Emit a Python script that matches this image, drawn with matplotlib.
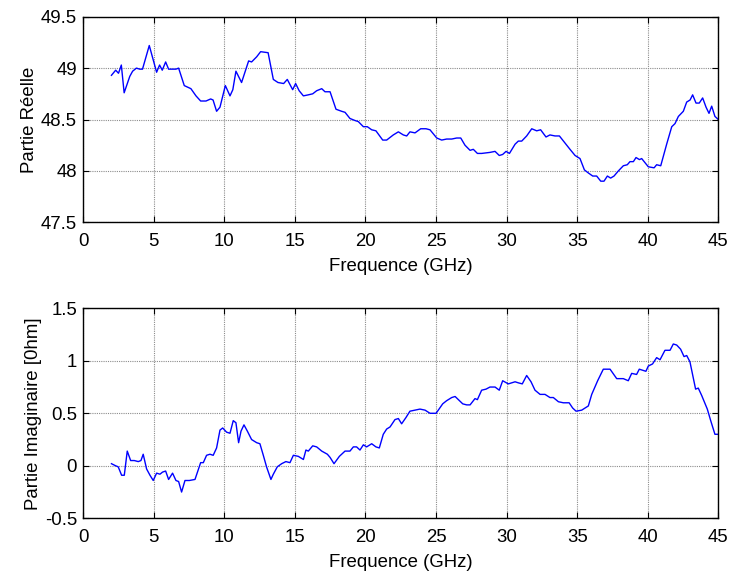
import numpy as np
import matplotlib
matplotlib.use("Agg")
import matplotlib.pyplot as plt

plt.rcParams['font.family'] = ['Liberation Sans', 'DejaVu Sans']

# partie reelle (top)
freq_re = [2.0, 2.3, 2.5, 2.7, 2.9, 3.3, 3.5, 3.77, 4.0, 4.2, 4.68, 5.2, 5.41, 5.6,
           5.84, 6.05, 6.57, 6.76, 7.16, 7.63, 7.99, 8.32, 8.7, 9.03, 9.2, 9.45,
           9.69, 10.07, 10.4, 10.6, 10.82, 11.22, 11.72, 11.93, 12.29, 12.57, 13.1,
           13.47, 13.8, 14.2, 14.46, 14.84, 15.05, 15.3, 15.6, 15.95, 16.26, 16.54,
           16.9, 17.13, 17.49, 17.91, 18.31, 18.55, 18.9, 19.26, 19.49, 19.85,
           20.13, 20.44, 20.74, 21.22, 21.5, 21.97, 22.33, 22.68, 22.92, 23.15,
           23.51, 23.91, 24.29, 24.57, 25.05, 25.4, 25.75, 26.11, 26.46, 26.75,
           27.05, 27.41, 27.64, 27.93, 28.23, 28.82, 29.18, 29.48, 29.72, 29.96,
           30.2, 30.6, 30.83, 31.07, 31.42, 31.78, 32.13, 32.41, 32.79, 33.07,
           33.43, 33.74, 34.14, 34.49, 34.85, 35.2, 35.51, 35.79, 36.1, 36.38,
           36.67, 36.9, 37.14, 37.37, 37.61, 37.92, 38.27, 38.55, 38.74, 38.98,
           39.17, 39.41, 39.57, 40.04, 40.45, 40.63, 40.92, 41.34, 41.7, 41.93,
           42.17, 42.52, 42.76, 43.0, 43.18, 43.42, 43.65, 43.89, 44.13, 44.34,
           44.53, 44.76, 45.0]
re_part = [48.93, 48.98, 48.95, 49.03, 48.76, 48.92, 48.97, 49.0, 48.99, 48.99,
           49.22, 48.96, 49.03, 48.98, 49.06, 48.99, 48.99, 49.0, 48.83, 48.80,
           48.73, 48.68, 48.68, 48.70, 48.69, 48.58, 48.62, 48.83, 48.73, 48.79,
           48.97, 48.86, 49.07, 49.06, 49.11, 49.16, 49.15, 48.89, 48.86, 48.85,
           48.89, 48.79, 48.85, 48.78, 48.73, 48.74, 48.75, 48.78, 48.80, 48.77,
           48.77, 48.60, 48.58, 48.57, 48.51, 48.49, 48.48, 48.43, 48.43, 48.40,
           48.39, 48.30, 48.30, 48.35, 48.38, 48.35, 48.34, 48.38, 48.37, 48.41,
           48.41, 48.40, 48.32, 48.30, 48.31, 48.31, 48.32, 48.32, 48.25, 48.20,
           48.21, 48.17, 48.17, 48.18, 48.19, 48.15, 48.16, 48.19, 48.17, 48.26,
           48.29, 48.29, 48.34, 48.41, 48.39, 48.40, 48.33, 48.35, 48.34, 48.34,
           48.27, 48.21, 48.15, 48.12, 48.01, 47.98, 47.95, 47.95, 47.90, 47.90,
           47.95, 47.93, 47.95, 48.00, 48.05, 48.06, 48.09, 48.09, 48.13, 48.11,
           48.12, 48.04, 48.03, 48.06, 48.05, 48.26, 48.43, 48.46, 48.53, 48.58,
           48.67, 48.69, 48.74, 48.66, 48.66, 48.71, 48.62, 48.56, 48.63, 48.53,
           48.50]

# partie imaginaire (bottom)
freq_im = [2.0, 2.3, 2.48, 2.72, 2.91, 3.12, 3.36, 3.62, 3.9, 4.09, 4.25, 4.49,
           4.73, 4.96, 5.2, 5.44, 5.62, 5.84, 6.05, 6.33, 6.57, 6.76, 6.97, 7.21,
           7.52, 7.92, 8.32, 8.51, 8.74, 8.98, 9.21, 9.45, 9.69, 9.88, 10.16, 10.4,
           10.63, 10.82, 11.01, 11.18, 11.39, 11.63, 11.93, 12.29, 12.52, 12.76,
           12.99, 13.3, 13.47, 13.75, 14.06, 14.36, 14.65, 14.89, 15.24, 15.6,
           15.78, 15.95, 16.26, 16.54, 16.9, 17.3, 17.49, 17.77, 18.15, 18.55,
           18.9, 19.14, 19.37, 19.61, 19.85, 20.08, 20.44, 20.74, 20.98, 21.26,
           21.5, 21.74, 22.09, 22.33, 22.56, 22.87, 23.15, 23.51, 23.86, 24.22,
           24.57, 25.0, 25.16, 25.47, 25.75, 26.11, 26.35, 26.58, 26.89, 27.17,
           27.41, 27.76, 27.93, 28.23, 28.54, 28.82, 29.18, 29.48, 29.72, 30.12,
           30.6, 30.83, 31.11, 31.42, 31.73, 32.01, 32.37, 32.72, 33.07, 33.31,
           33.67, 34.02, 34.43, 34.68, 34.92, 35.32, 35.79, 36.03, 36.45, 36.85,
           37.33, 37.8, 38.03, 38.27, 38.62, 38.86, 39.21, 39.4, 39.87, 40.04,
           40.34, 40.63, 40.87, 41.22, 41.46, 41.58, 41.81, 42.05, 42.33, 42.57,
           42.76, 42.99, 43.39, 43.58, 43.82, 44.22, 44.46, 44.76, 45.0]
im_part = [0.02, 0.0, -0.01, -0.09, -0.09, 0.14, 0.05, 0.05, 0.04, 0.05, 0.11,
           -0.03, -0.09, -0.14, -0.07, -0.08, -0.06, -0.05, -0.13, -0.07, -0.14,
           -0.15, -0.25, -0.14, -0.14, -0.13, 0.03, 0.03, 0.10, 0.11, 0.10, 0.17,
           0.34, 0.36, 0.32, 0.31, 0.43, 0.41, 0.22, 0.33, 0.39, 0.33, 0.25, 0.22,
           0.21, 0.10, -0.01, -0.13, -0.08, -0.01, 0.02, 0.04, 0.03, 0.10, 0.09,
           0.06, 0.15, 0.14, 0.19, 0.18, 0.14, 0.11, 0.08, 0.02, 0.09, 0.14, 0.14,
           0.18, 0.18, 0.15, 0.20, 0.18, 0.21, 0.18, 0.17, 0.30, 0.35, 0.37, 0.44,
           0.45, 0.40, 0.46, 0.52, 0.53, 0.54, 0.53, 0.50, 0.50, 0.53, 0.59, 0.62,
           0.65, 0.66, 0.63, 0.59, 0.58, 0.58, 0.64, 0.63, 0.72, 0.73, 0.75, 0.75,
           0.72, 0.81, 0.78, 0.80, 0.79, 0.78, 0.86, 0.80, 0.72, 0.68, 0.68, 0.65,
           0.65, 0.61, 0.60, 0.60, 0.55, 0.52, 0.53, 0.57, 0.68, 0.81, 0.92, 0.92,
           0.83, 0.83, 0.83, 0.81, 0.88, 0.87, 0.92, 0.90, 0.95, 0.97, 1.03, 1.01,
           1.10, 1.10, 1.10, 1.16, 1.15, 1.11, 1.04, 1.05, 0.99, 0.73, 0.74, 0.67,
           0.54, 0.43, 0.30, 0.30]

xticks = [0, 5, 10, 15, 20, 25, 30, 35, 40, 45]
fs = 13.4

fig = plt.figure(figsize=(7.3, 5.71), dpi=100)
ax1 = fig.add_axes([0.114, 0.6107, 0.870, 0.360])
ax2 = fig.add_axes([0.114, 0.0923, 0.870, 0.3678])


def matlab_style(ax):
    ax.grid(True, color='#8c8c8c', linestyle=(0, (1, 1)), linewidth=0.8)
    ax.set_axisbelow(True)
    ax.tick_params(direction='in', top=True, right=True, length=4,
                   width=0.8, labelsize=fs)
    ax.tick_params(axis='x', pad=7.5)
    ax.tick_params(axis='y', pad=4.5)
    for s in ax.spines.values():
        s.set_linewidth(1.0)
    ax.set_xlim(0, 45)
    ax.set_xticks(xticks)
    ax.set_xlabel('Frequence (GHz)', fontsize=fs, labelpad=6)


ax1.plot(freq_re, re_part, color='#0000ff', linewidth=1.0)
ax1.set_ylim(47.5, 49.5)
ax1.set_yticks([47.5, 48, 48.5, 49, 49.5])
ax1.set_yticklabels(['47.5', '48', '48.5', '49', '49.5'])
ax1.set_ylabel('Partie Réelle', fontsize=fs, labelpad=2)
matlab_style(ax1)

ax2.plot(freq_im, im_part, color='#0000ff', linewidth=1.0)
ax2.set_ylim(-0.5, 1.5)
ax2.set_yticks([-0.5, 0, 0.5, 1, 1.5])
ax2.set_yticklabels(['-0.5', '0', '0.5', '1', '1.5'])
ax2.set_ylabel('Partie Imaginaire [0hm]', fontsize=fs, labelpad=2)
matlab_style(ax2)

fig.savefig('out.png', dpi=100)
